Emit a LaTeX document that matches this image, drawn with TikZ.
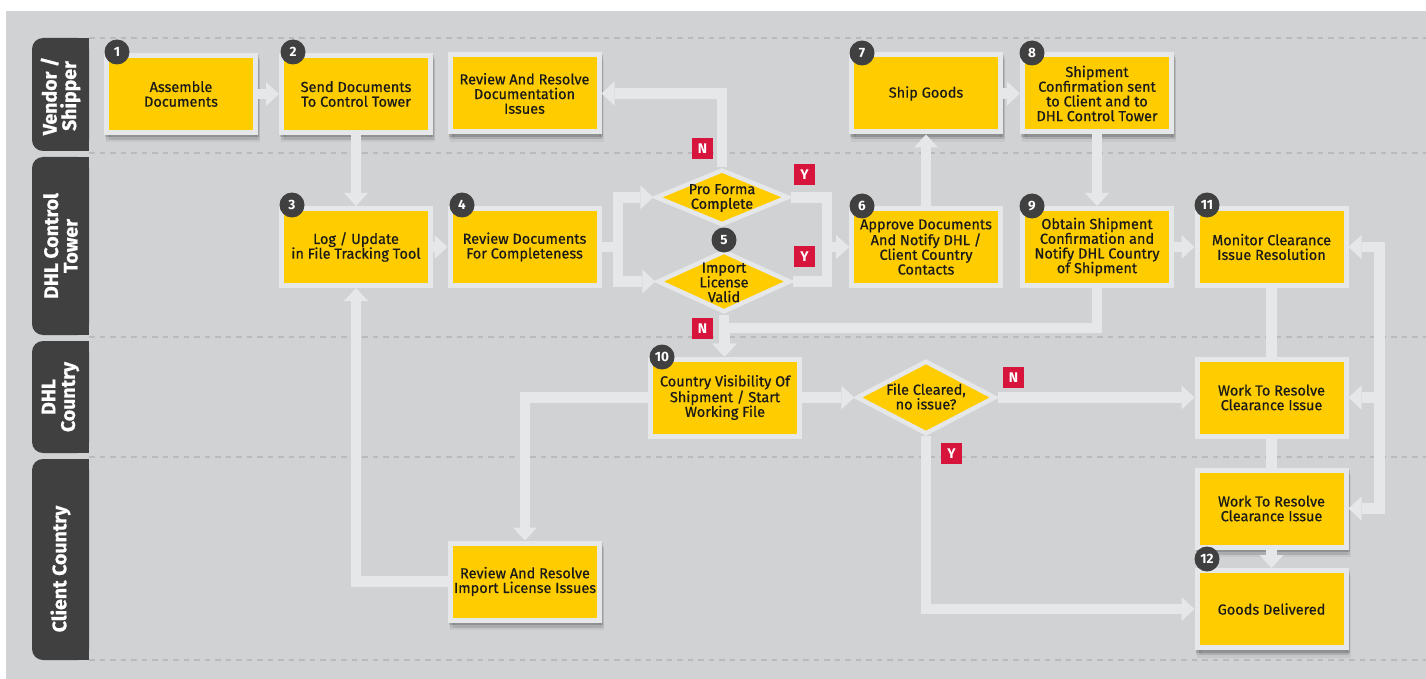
\documentclass[tikz,border=0pt]{standalone}
\usepackage{fontspec}
\setmainfont{Fira Sans}
\newfontfamily\bxf{Fira Sans}[FakeBold=0.6]
\newfontfamily\lnf{Fira Sans}[FakeBold=0.8]
\usetikzlibrary{arrows.meta,shapes.geometric}
\definecolor{bg}{HTML}{D1D2D4}
\definecolor{lc}{HTML}{E6E7E8}
\definecolor{dl}{HTML}{B9BABC}
\definecolor{tabc}{HTML}{404041}
\definecolor{dhly}{HTML}{FFCC00}
\definecolor{dhlr}{HTML}{D6143C}
\definecolor{txt}{HTML}{1A1A1A}
\begin{document}
\begin{tikzpicture}[x=1pt,y=-1pt,
 box/.style={rectangle, draw=lc, line width=5pt, fill=dhly, minimum width=149pt, minimum height=77pt, inner sep=0pt, align=center, text=txt, font=\bxf\fontsize{14.5}{14.7}\selectfont},
 sh/.style={
   preaction={fill=black, draw=black, line width=5pt, opacity=.13, transform canvas={xshift=1pt,yshift=-2.5pt}},
   preaction={fill=black, draw=black, line width=5pt, opacity=.08, transform canvas={xshift=1.5pt,yshift=-5pt}},
   preaction={fill=black, draw=black, line width=5pt, opacity=.05, transform canvas={xshift=2pt,yshift=-7.5pt}}},
 badge/.style={circle, fill=tabc, minimum size=25pt, inner sep=0pt, text=white, font=\bfseries\fontsize{13.5}{13.5}\selectfont},
 lab/.style={rectangle, fill=dhlr, minimum size=21pt, inner sep=0pt, text=white, font=\bfseries\fontsize{14}{14}\selectfont},
 dia/.style={diamond, draw=lc, line width=4.5pt, fill=dhly, inner sep=0pt},
 dtext/.style={align=center, text=txt, font=\bxf\fontsize{14.5}{14.7}\selectfont, inner sep=0pt},
 lanetxt/.style={rotate=90, align=center, text=white, inner sep=0pt, font=\lnf\bfseries\fontsize{19.5}{19.5}\selectfont},
 conn/.style={draw=lc, line width=10.5pt, line join=miter},
 arr/.style={conn, -{Triangle[width=24pt,length=13pt,line width=0pt]}},
 dashln/.style={draw=dl, line width=2pt, dash pattern=on 5.5pt off 5pt}
]
\useasboundingbox (0,0) rectangle (1426,679);
\fill[white] (0,0) rectangle (1426,679);
\fill[bg] (6,11) rectangle (1426,679);

% lane separators
\foreach \yy in {38,153,337,457,660} \draw[dashln] (89,\yy) -- (1426,\yy);

% lane tabs
\fill[tabc, rounded corners=11pt] (32,38) rectangle (89,151);
\fill[tabc] (60,38) rectangle (89,151);
\fill[tabc, rounded corners=11pt] (32,157) rectangle (89,335);
\fill[tabc] (60,157) rectangle (89,335);
\fill[tabc, rounded corners=11pt] (32,341) rectangle (89,453);
\fill[tabc] (60,341) rectangle (89,453);
\fill[tabc, rounded corners=11pt] (32,459) rectangle (89,660);
\fill[tabc] (60,459) rectangle (89,660);
\node[lanetxt] (lane1) at (60.5,96) {Vendor /\\Shipper};
\node[lanetxt] (lane2) at (60.5,246) {DHL Control\\Tower};
\node[lanetxt] (lane3) at (60.5,397) {DHL\\Country};
\node[lanetxt] (lane4) at (60.5,569) {Client Country};

% boxes
\node[box, sh] (b1) at (181,94) {Assemble\\Documents};
\node[box, sh] (b2) at (356,94) {Send Documents\\To Control Tower};
\node[box, sh] (rd) at (524.5,93.5) {Review And Resolve\\Documentation\\Issues};
\node[box] (b3) at (356,247) {Log / Update\\in File Tracking Tool};
\node[box] (b4) at (524.5,247) {Review Documents\\For Completeness};
\node[dia, minimum width=133pt, minimum height=55.6pt] (pf) at (722,197.3) {};
\node[dia, minimum width=133pt, minimum height=61.5pt] (il) at (724,281.5) {};
\node[box] (b6) at (926,247) {Approve Documents\\And Notify DHL /\\Client Country\\Contacts};
\node[box, sh] (b7) at (926,93.5) {Ship Goods};
\node[box, sh] (b8) at (1097,93.5) {Shipment\\Confirmation sent\\to Client and to\\DHL Control Tower};
\node[box] (b9) at (1097,247) {Obtain Shipment\\Confirmation and\\Notify DHL Country\\of Shipment};
\node[box] (b11) at (1271.5,247) {Monitor Clearance\\Issue Resolution};
\node[box] (b10) at (725,397.5) {Country Visibility Of\\Shipment / Start\\Working File};
\node[dia, minimum width=139pt, minimum height=73.4pt] (fc) at (926,397.5) {};
\node[box] (w1) at (1271.5,397.5) {Work To Resolve\\Clearance Issue};
\node[box, sh] (w2) at (1271.5,508.5) {Work To Resolve\\Clearance Issue};
\node[box, sh] (gd) at (1271.5,609) {Goods Delivered};
\node[box, sh] (ri) at (525,581.5) {Review And Resolve\\Import License Issues};

% diamond texts
\node[dtext] (pft) at (722,198) {Pro Forma\\Complete};
\node[dtext] (ilt) at (724,282.5) {Import\\License\\Valid};
\node[dtext] (fct) at (926,396.5) {File Cleared,\\no issue?};

% connectors
\coordinate (sp) at (618,247);
\coordinate (yj) at (827,247);
\coordinate (nj) at (725,328);
\coordinate (rt) at (1379.5,247);
\coordinate (rb) at (1379.5,508.5);
\draw[arr] (b1.east) -- (b2.west);
\draw[arr] (b2.south) -- (b3.north);
\draw[arr] (b3.east) -- (b4.west);
\draw[arr] (b4.east) -- (sp) |- (pf.west);
\draw[arr] (b4.east) -- (sp) |- (il.west);
\draw[arr] (pf.north) |- (rd.east);
\draw[arr] (pf.east) -| (yj) -- (b6.west);
\draw[arr] (il.east) -| (yj) -- (b6.west);
\draw[arr] (il.south) -- (il.south |- b10.north);
\draw[arr] (b9.south) |- (nj) -- (b10.north);
\draw[arr] (b6.north) -- (b7.south);
\draw[arr] (b7.east) -- (b8.west);
\draw[arr] (b8.south) -- (b9.north);
\draw[arr] (b9.east) -- (b11.west);
\draw[conn] (b11.south) -- (w1.north);
\draw[arr] (rb) -- (rt) -- (b11.east);
\draw[arr] (rt) -- (rb) -- (w2.east);
\draw[arr] (rt |- w1.east) -- (w1.east);
\draw[arr] (b10.east) -- (fc.west);
\draw[arr] (b10.west) -| (ri.north);
\draw[arr] (ri.west) -| (b3.south);
\draw[arr] (fc.east) -- (w1.west);
\draw[arr] (fc.south) |- (gd.west);
\draw[conn] (w1.south) -- (w2.north);
\draw[arr] (w2.south) -- (gd.north);

% badges
\node[badge] (n1) at (117,52) {1};
\node[badge] (n2) at (293,52) {2};
\node[badge] (n3) at (292,205) {3};
\node[badge] (n4) at (462,205) {4};
\node[badge] (n5) at (724,240) {5};
\node[badge] (n6) at (862,206) {6};
\node[badge] (n7) at (862,53) {7};
\node[badge] (n8) at (1032,53) {8};
\node[badge] (n9) at (1032,206) {9};
\node[badge] (n10) at (662,357) {10};
\node[badge] (n11) at (1207,205) {11};
\node[badge] (n12) at (1207,559) {12};

% decision labels
\node[lab] (ln1) at (702.5,148.5) {N};
\node[lab] (ly1) at (804.5,174.5) {Y};
\node[lab] (ly2) at (804.5,256.5) {Y};
\node[lab] (ln2) at (702.5,328.5) {N};
\node[lab] (ln3) at (1013.5,377.5) {N};
\node[lab] (ly3) at (951.5,453.5) {Y};
\end{tikzpicture}
\end{document}
